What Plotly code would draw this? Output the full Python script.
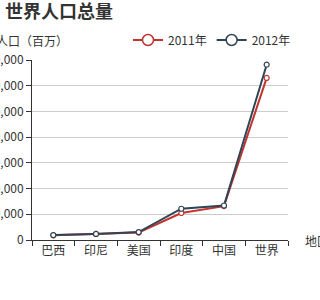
import plotly.graph_objects as go

categories = ["巴西", "印尼", "美国", "印度", "中国", "世界"]
series_names = ["2011年", "2012年"]
values_2011 = [18203, 23489, 29034, 104970, 131744, 630230]
values_2012 = [19325, 23438, 31000, 121594, 134141, 681807]
y_ticks = [0, 100000, 200000, 300000, 400000, 500000, 600000, 700000]
colors = ["#c23531", "#2f4554"]

FONT = "Noto Sans CJK SC"

fig = go.Figure()
for name, vals, col in zip(series_names, [values_2011, values_2012], colors):
    fig.add_trace(go.Scatter(
        x=categories, y=vals, name=name, mode="lines+markers", showlegend=False,
        line=dict(color=col, width=2),
        marker=dict(symbol="circle", size=5, color="white", line=dict(color=col, width=1.2)),
    ))
# legend entries (larger symbol, like the reference legend icons)
for name, col in zip(series_names, colors):
    fig.add_trace(go.Scatter(
        x=[None], y=[None], name=name, mode="lines+markers", showlegend=True,
        line=dict(color=col, width=2),
        marker=dict(symbol="circle", size=11, color="white", line=dict(color=col, width=1.5)),
    ))

fig.update_layout(
    width=320, height=300,
    margin=dict(l=32, r=32, t=60, b=60, autoexpand=False),
    paper_bgcolor="white", plot_bgcolor="white",
    font=dict(family=FONT, size=12, color="#333"),
    showlegend=True,
    legend=dict(orientation="h", xref="container", yref="container",
                x=128/320, xanchor="left", y=1 - 40/300, yanchor="middle",
                font=dict(size=12, color="#333"),
                bgcolor="rgba(0,0,0,0)", itemwidth=30),
    title=dict(text="<b>世界人口总量</b>", xref="container", x=5/320, xanchor="left",
               yref="container", y=1 - 12/300, yanchor="middle",
               font=dict(family=FONT, size=18, color="#333")),
)
fig.update_xaxes(
    type="category", range=[-0.5, 5.5], tickson="boundaries", automargin=False,
    ticks="outside", ticklen=5, tickcolor="#333", showline=True, linecolor="#333", linewidth=1,
    showgrid=False, zeroline=False, tickfont=dict(size=12, color="#333"), fixedrange=True,
)
fig.update_yaxes(
    range=[0, 700000], tickvals=y_ticks, tickformat=",d", automargin=False,
    ticks="outside", ticklen=5, tickcolor="#333", showline=True, linecolor="#333", linewidth=1,
    showgrid=True, gridcolor="#ccc", gridwidth=1, zeroline=False,
    tickfont=dict(size=12, color="#333"), fixedrange=True,
)
fig.add_annotation(text="地区", xref="paper", yref="paper", x=1, y=0, xanchor="left",
                   yanchor="middle", xshift=15, showarrow=False, font=dict(size=12, color="#333"))
fig.add_annotation(text="人口（百万）", xref="paper", yref="paper", x=0, y=1, xanchor="center",
                   yanchor="middle", yshift=20, showarrow=False, font=dict(size=12, color="#333"))

fig.write_html("out.html", config={"displayModeBar": False},
               post_script="document.body.style.margin='0';document.body.style.overflow='hidden';")
